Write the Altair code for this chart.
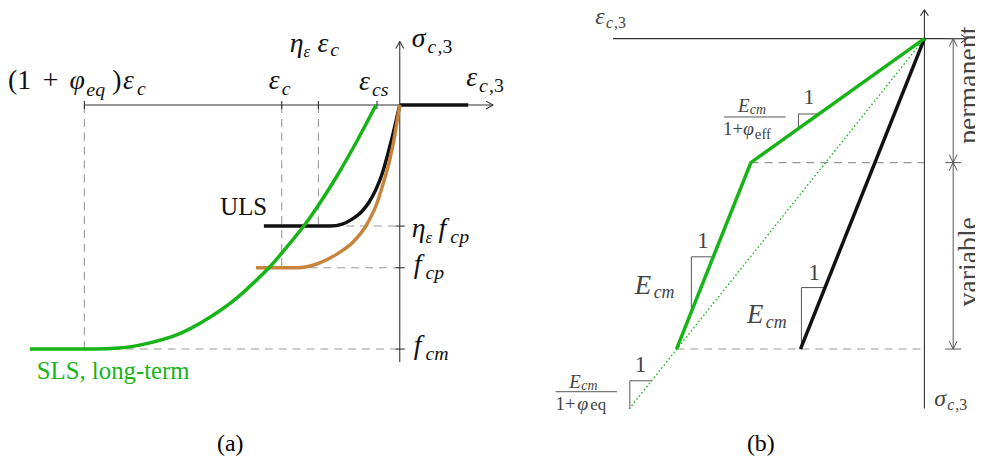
import altair as alt
import pandas as pd

# ---------------- values (picture coordinates) ----------------
# Panel (a): SLS long-term curve (green), ULS curve (black), fcp curve (orange)
SLS_X = [30, 95, 120, 150, 180, 210, 237, 260, 273, 290, 307, 323, 340, 360, 379]
SLS_Y = [350, 350, 349, 344, 335, 319, 300, 279, 266, 246, 225, 202, 175, 140, 104]
ULS_X = [266, 333, 345, 355, 364, 372, 379, 385, 390, 395, 400, 403]
ULS_Y = [226, 226, 224, 219, 212, 202, 189, 174, 157, 138, 117, 104]
FCP_X = [258, 300, 320, 340, 357, 370, 380, 386, 392, 397, 400, 403]
FCP_Y = [268, 268, 264, 254, 241, 224, 203, 184, 163, 140, 122, 104]
TENSION_X = [403, 472]
TENSION_Y = [104, 104]

# Panel (b): bilinear SLS (green), ULS (black), equivalent secant (dotted green)
B_GREEN_X = [932, 757, 682]
B_GREEN_Y = [37, 162, 350]
B_BLACK_X = [932, 807]
B_BLACK_Y = [37, 350]
B_DOTTED_X = [932, 633]
B_DOTTED_Y = [37, 412]

# reference levels
A_TICKS_X = [85, 284, 321, 380]        # (1+phi)eps_c, eps_c, eta*eps_c, eps_cs
A_LEVELS_Y = [226, 268, 350]           # eta*fcp, fcp, fcm
B_LEVELS_Y = [37, 162, 350]            # top, permanent/variable, bottom

# ---------------- helpers ----------------
def polys(*lines):
    rows = []
    for k, pts in enumerate(lines):
        for i, (x, y) in enumerate(pts):
            rows.append({"id": k, "i": i, "x": x, "y": y})
    return pd.DataFrame(rows)

def zipxy(xs, ys):
    return list(zip(xs, ys))

X = alt.Scale(domain=[8, 983], nice=False, zero=False)
Y = alt.Scale(domain=[8, 462], nice=False, zero=False, reverse=True)

def line_layer(df, color, width, dash=None, interp="linear"):
    kw = dict(color=color, strokeWidth=width, strokeCap="butt", strokeJoin="round",
              interpolate=interp)
    if dash:
        kw["strokeDash"] = dash
    return alt.Chart(df).mark_line(**kw).encode(
        x=alt.X("x:Q", scale=X, axis=None),
        y=alt.Y("y:Q", scale=Y, axis=None),
        detail="id:N",
        order="i:Q",
    )

# axes (thin dark)
axes_df = polys(
    [(85, 104), (497, 104)], [(403, 40), (403, 363)],
    [(490, 100), (497, 104), (490, 108)], [(399, 47), (403, 40), (407, 47)],
    *[[(x, 100), (x, 108)] for x in A_TICKS_X],
    *[[(399, y), (408, y)] for y in A_LEVELS_Y],
    [(618, 37), (975, 37)], [(932, 8), (932, 410)],
    [(969, 33), (975, 37), (969, 41)], [(928, 14), (932, 8), (936, 14)],
)

dash_df = polys(
    [(A_TICKS_X[0], 104), (A_TICKS_X[0], A_LEVELS_Y[2])],
    [(A_TICKS_X[1], 104), (A_TICKS_X[1], A_LEVELS_Y[1])],
    [(A_TICKS_X[2], 104), (A_TICKS_X[2], A_LEVELS_Y[0])],
    [(A_TICKS_X[2], A_LEVELS_Y[0]), (403, A_LEVELS_Y[0])],
    [(A_TICKS_X[1], A_LEVELS_Y[1]), (403, A_LEVELS_Y[1])],
    [(A_TICKS_X[0], A_LEVELS_Y[2]), (403, A_LEVELS_Y[2])],
    [(757, B_LEVELS_Y[1]), (932, B_LEVELS_Y[1])],
    [(682, B_LEVELS_Y[2]), (932, B_LEVELS_Y[2])],
)

thin_df = polys(
    # slope triangles
    [(805, 128), (805, 113), (825, 113)],
    [(697, 312), (697, 257), (719, 257)],
    [(808, 347), (808, 288), (832, 288)],
    [(635, 410), (635, 382), (657, 382)],
    # fraction bars
    [(730, 116), (792, 116)], [(560, 393), (622, 393)],
    # dimension line
    [(961, 37), (961, 350)],
    *[[(953, y), (969, y)] for y in B_LEVELS_Y],
    [(957, 45), (961, 37), (965, 45)],
    [(957, 154), (961, 162), (965, 154)],
    [(957, 170), (961, 162), (965, 170)],
    [(957, 342), (961, 350), (965, 342)],
)

GREEN = "#17b417"
ORANGE = "#c8843c"

curve_green_df = polys(zipxy(SLS_X, SLS_Y))
curve_black_df = polys(zipxy(ULS_X, ULS_Y))
curve_orange_df = polys(zipxy(FCP_X, FCP_Y))
green_df = polys(zipxy(B_GREEN_X, B_GREEN_Y))
black_df = polys(zipxy(TENSION_X, TENSION_Y), zipxy(B_BLACK_X, B_BLACK_Y))
dotted_df = polys(zipxy(B_DOTTED_X, B_DOTTED_Y))

# ---------------- labels ----------------
A = "#111111"
B = "#444444"
# (text, x, y, size, italic, color)
LABELS = [
    ("(1", 8, 88, 28, False, A), ("+", 43, 88, 28, False, A), ("φ", 70, 88, 28, True, A),
    ("eq", 87, 95, 20, True, A), (")", 113, 88, 28, False, A), ("ε", 124, 88, 28, True, A),
    ("c", 138, 94, 20, True, A),
    ("ε", 271, 88, 28, True, A), ("c", 284, 94, 20, True, A),
    ("η", 292, 50, 28, True, A), ("ε", 306, 56, 17, True, A), ("ε", 320, 50, 28, True, A),
    ("c", 333, 55, 20, True, A),
    ("σ", 415, 45, 28, True, A), ("c", 431, 51, 20, True, A), (",3", 441, 51, 20, False, A),
    ("ε", 362, 89, 28, True, A), ("cs", 375, 95, 20, True, A),
    ("ε", 470, 85, 28, True, A), ("c", 483, 91, 20, True, A), (",3", 493, 91, 20, False, A),
    ("ULS", 222, 215, 25, False, A),
    ("η", 415, 237, 28, True, A), ("ε", 429, 243, 17, True, A), ("f", 442, 237, 28, True, A),
    ("cp", 454, 243, 20, True, A),
    ("f", 417, 273, 28, True, A), ("cp", 429, 279, 20, True, A),
    ("f", 417, 355, 28, True, A), ("cm", 429, 361, 20, True, A),
    ("SLS, long-term", 37, 380, 25, False, GREEN),
    # panel (b)
    ("ε", 600, 22, 24, True, B), ("c", 611, 26, 16, True, B), (",3", 619, 26, 16, False, B),
    ("σ", 942, 407, 24, True, B), ("c", 955, 411, 16, True, B), (",3", 963, 411, 16, False, B),
    ("E", 744, 111, 19, True, B), ("cm", 756, 113, 14, True, B),
    ("1+", 729, 134, 19, False, B), ("φ", 749, 134, 20, True, B), ("eff", 761, 138, 15, False, B),
    ("1", 810, 103, 22, False, B),
    ("1", 703, 248, 23, False, B), ("E", 640, 294, 27, True, B), ("cm", 659, 299, 18, True, B),
    ("1", 815, 280, 23, False, B), ("E", 753, 324, 27, True, B), ("cm", 772, 329, 18, True, B),
    ("1", 640, 373, 23, False, B),
    ("E", 574, 389, 19, True, B), ("cm", 586, 391, 14, True, B),
    ("1+", 560, 411, 19, False, B), ("φ", 582, 411, 20, True, B), ("eq", 595, 411, 17, False, B),
]
CENTER_LABELS = [  # (text, x, y, size, angle, color)
    ("(a)", 232, 453, 24, 0, "#000000"),
    ("(b)", 767, 453, 24, 0, "#000000"),
    ("permanent", 985, 84, 28, 270, B),
    ("variable", 985, 262, 28, 270, B),
]

lab = pd.DataFrame(LABELS, columns=["t", "x", "y", "s", "it", "c"])
cen = pd.DataFrame(CENTER_LABELS, columns=["t", "x", "y", "s", "a", "c"])

FONT = "Liberation Serif, Times New Roman, serif"

def text_layer(df, style, align):
    return alt.Chart(df).mark_text(
        font=FONT, fontStyle=style, align=align, baseline="alphabetic"
    ).encode(
        x=alt.X("x:Q", scale=X, axis=None),
        y=alt.Y("y:Q", scale=Y, axis=None),
        text="t:N",
        size=alt.Size("s:Q", scale=None, legend=None),
        color=alt.Color("c:N", scale=None, legend=None),
    )

rot = alt.Chart(cen).mark_text(font=FONT, align="center", baseline="alphabetic").encode(
    x=alt.X("x:Q", scale=X, axis=None),
    y=alt.Y("y:Q", scale=Y, axis=None),
    text="t:N",
    size=alt.Size("s:Q", scale=None, legend=None),
    color=alt.Color("c:N", scale=None, legend=None),
    angle=alt.Angle("a:Q", scale=None),
)

chart = alt.layer(
    line_layer(dash_df, "#999999", 1.1, [8, 6]),
    line_layer(axes_df, "#333333", 1.1),
    line_layer(thin_df, "#555555", 1.0),
    line_layer(dotted_df, GREEN, 1.4, [1.5, 2.5]),
    line_layer(curve_black_df, "#111111", 3.5, interp="monotone"),
    line_layer(black_df, "#111111", 3.5),
    line_layer(curve_orange_df, ORANGE, 3.5, interp="monotone"),
    line_layer(curve_green_df, GREEN, 3.5, interp="monotone"),
    line_layer(green_df, GREEN, 3.5),
    text_layer(lab[lab.it], "italic", "left"),
    text_layer(lab[~lab.it], "normal", "left"),
    rot,
).properties(
    width=975, height=454, padding=0,
    autosize=alt.AutoSizeParams(type="none"),
).configure_view(stroke=None)

chart.save("out.html", embed_options={"renderer": "svg", "actions": False})
